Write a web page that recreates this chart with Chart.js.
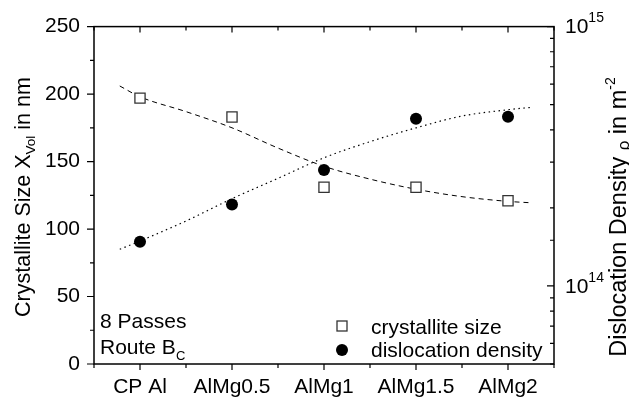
<!DOCTYPE html>
<html>
<head>
<meta charset="utf-8">
<script src="https://cdn.jsdelivr.net/npm/chart.js@4.4.1/dist/chart.umd.min.js"></script>
<style>
  html, body { margin: 0; padding: 0; background: #fff; }
</style>
</head>
<body>
<canvas id="chart" width="629" height="402"></canvas>
<script>
// data
const categories = ['CP Al', 'AlMg0.5', 'AlMg1', 'AlMg1.5', 'AlMg2'];
const crystalliteSize = [197, 183, 131, 131, 121];
const dislocationDensity = [1.48e14, 2.06e14, 2.8e14, 4.41e14, 4.49e14];

// fitted guide curves
const sizeFitX = [-0.22, 0, 0.5, 1, 1.5, 2, 2.5, 3, 3.5, 4, 4.24];
const sizeFitY = [206, 198, 187, 175, 160, 146.5, 137, 129.5, 124, 120.5, 119.5];
const densFitX = [-0.22, 0, 0.5, 1, 1.5, 2, 2.5, 3, 3.5, 4, 4.27];
const densFitY = [1.385e14, 1.49e14, 1.78e14, 2.17e14, 2.6e14, 3.12e14, 3.6e14, 4.07e14, 4.52e14, 4.78e14, 4.89e14];

const leftTickLabels = [0, 50, 100, 150, 200, 250];
const rightTickValues = [1e14, 1e15];
const rightTickExp = ['14', '15'];

const FONT = '"Liberation Sans", Arial, Helvetica, sans-serif';
Chart.defaults.font.family = FONT;
Chart.defaults.color = '#000';

function pts(xs, ys) {
    return xs.map((x, i) => ({ x: x, y: ys[i] }));
}

// draws text pieces one after another; each piece can be shifted (sub/sup)
function richText(ctx, parts, x, y, align) {
    let total = 0;
    parts.forEach(p => {
        ctx.font = p.size + 'px ' + FONT;
        p.w = ctx.measureText(p.t).width;
        total += p.w;
    });
    let cx = align === 'center' ? x - total / 2 : x;
    parts.forEach(p => {
        ctx.font = p.size + 'px ' + FONT;
        ctx.fillText(p.t, cx, y + (p.dy || 0));
        cx += p.w;
    });
}

const decorations = {
    id: 'decorations',
    afterDraw(chart) {
        const ctx = chart.ctx;
        const a = chart.chartArea;
        const sx = chart.scales.x, sy = chart.scales.y, sr = chart.scales.y2;
        ctx.save();
        ctx.strokeStyle = '#000';
        ctx.fillStyle = '#000';
        ctx.lineWidth = 1.5;
        ctx.strokeRect(a.left, a.top, a.right - a.left, a.bottom - a.top);

        ctx.lineWidth = 1.2;
        ctx.beginPath();
        // bottom (outward) and top (inward) ticks
        sx.ticks.forEach(t => {
            const px = sx.getPixelForValue(t.value);
            const len = Number.isInteger(t.value) ? 6 : 4;
            ctx.moveTo(px, a.bottom); ctx.lineTo(px, a.bottom + len);
            ctx.moveTo(px, a.top); ctx.lineTo(px, a.top + len);
        });
        // left ticks, outward
        sy.ticks.forEach(t => {
            const py = sy.getPixelForValue(t.value);
            const len = t.value % 50 === 0 ? 7 : 4;
            ctx.moveTo(a.left, py); ctx.lineTo(a.left - len, py);
        });
        // right log ticks, inward
        sr.ticks.forEach(t => {
            const py = sr.getPixelForValue(t.value);
            const lg = Math.log10(t.value);
            const len = Math.abs(lg - Math.round(lg)) < 1e-9 ? 7 : 4;
            ctx.moveTo(a.right, py); ctx.lineTo(a.right - len, py);
        });
        ctx.stroke();

        // right axis labels 10^n
        ctx.textBaseline = 'middle';
        ctx.textAlign = 'left';
        rightTickValues.forEach((v, i) => {
            const py = sr.getPixelForValue(v);
            richText(ctx, [
                { t: '10', size: 21 },
                { t: rightTickExp[i], size: 14, dy: -9 }
            ], a.right + 11, py + 1, 'left');
        });

        // axis titles
        ctx.textBaseline = 'alphabetic';
        ctx.save();
        ctx.translate(30, 197);
        ctx.rotate(-Math.PI / 2);
        richText(ctx, [
            { t: 'Crystallite Size X', size: 21.5 },
            { t: 'Vol', size: 13.5, dy: 5 },
            { t: ' in nm', size: 21.5 }
        ], 0, 0, 'center');
        ctx.restore();

        ctx.save();
        ctx.translate(626, 217);
        ctx.rotate(-Math.PI / 2);
        richText(ctx, [
            { t: 'Dislocation Density ', size: 23.5 },
            { t: '\u03c1', size: 17, dy: 3 },
            { t: ' in m', size: 23.5 },
            { t: '-2', size: 14, dy: -11 }
        ], 0, 0, 'center');
        ctx.restore();

        // note in lower left
        richText(ctx, [{ t: '8 Passes', size: 21 }], a.left + 6, 328, 'left');
        richText(ctx, [
            { t: 'Route B', size: 21 },
            { t: 'C', size: 13, dy: 6 }
        ], a.left + 6, 354, 'left');

        // legend
        const lx = 342;
        ctx.lineWidth = 1.3;
        ctx.strokeStyle = '#333';
        ctx.fillStyle = '#fff';
        ctx.fillRect(lx - 5, 321, 10, 10);
        ctx.strokeRect(lx - 5, 321, 10, 10);
        ctx.fillStyle = '#000';
        ctx.beginPath();
        ctx.arc(lx, 350, 6, 0, Math.PI * 2);
        ctx.fill();
        richText(ctx, [{ t: 'crystallite size', size: 21 }], 371, 334, 'left');
        richText(ctx, [{ t: 'dislocation density', size: 21 }], 371, 357, 'left');
        ctx.restore();
    }
};

const ctx = document.getElementById('chart').getContext('2d');
new Chart(ctx, {
    type: 'scatter',
    data: {
        datasets: [
            {
                label: 'crystallite size',
                data: pts([0, 1, 2, 3, 4], crystalliteSize),
                yAxisID: 'y',
                pointStyle: 'rect',
                pointRadius: 7.2,
                backgroundColor: '#fff',
                borderColor: '#333',
                borderWidth: 1.3
            },
            {
                label: 'dislocation density',
                data: pts([0, 1, 2, 3, 4], dislocationDensity),
                yAxisID: 'y2',
                pointStyle: 'circle',
                pointRadius: 6,
                backgroundColor: '#000',
                borderColor: '#000',
                borderWidth: 0
            },
            {
                label: 'size fit',
                data: pts(sizeFitX, sizeFitY),
                yAxisID: 'y',
                showLine: true,
                pointRadius: 0,
                borderColor: '#000',
                borderWidth: 1,
                borderDash: [5, 4],
                cubicInterpolationMode: 'monotone'
            },
            {
                label: 'density fit',
                data: pts(densFitX, densFitY),
                yAxisID: 'y2',
                showLine: true,
                pointRadius: 0,
                borderColor: '#000',
                borderWidth: 1.2,
                borderDash: [1.5, 3.5],
                cubicInterpolationMode: 'monotone'
            }
        ]
    },
    options: {
        responsive: false,
        animation: false,
        layout: { padding: { top: 24, left: 0, right: 0, bottom: 0 } },
        plugins: {
            legend: { display: false },
            tooltip: { enabled: false }
        },
        scales: {
            x: {
                type: 'linear',
                min: -0.5,
                max: 4.5,
                grid: { display: false, drawTicks: false },
                border: { display: false },
                ticks: {
                    stepSize: 0.5,
                    autoSkip: false,
                    maxRotation: 0,
                    padding: 11,
                    font: { size: 21 },
                    callback: v => Number.isInteger(v) ? categories[v] : ''
                },
                afterFit: s => { s.height = 38; }
            },
            y: {
                position: 'left',
                min: 0,
                max: 250,
                grid: { display: false, drawTicks: false },
                border: { display: false },
                ticks: {
                    stepSize: 25,
                    padding: 14,
                    font: { size: 21 },
                    callback: v => leftTickLabels.includes(v) ? v : ''
                },
                afterFit: s => { s.width = 94; }
            },
            y2: {
                type: 'logarithmic',
                position: 'right',
                min: 5e13,
                max: 1e15,
                grid: { display: false, drawTicks: false },
                border: { display: false },
                ticks: {
                    autoSkip: false,
                    callback: () => ''
                },
                afterFit: s => { s.width = 75; }
            }
        }
    },
    plugins: [decorations]
});
</script>
</body>
</html>
